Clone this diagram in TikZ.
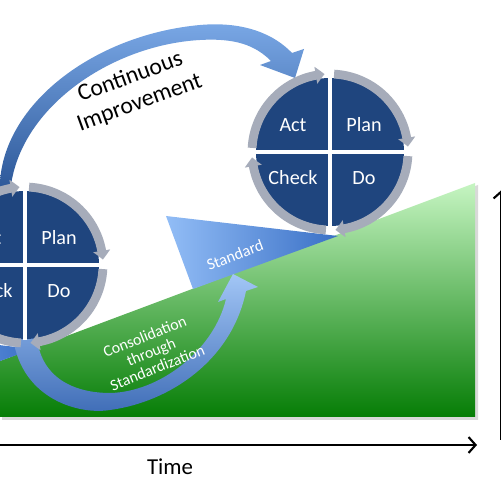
\documentclass[tikz,border=0pt]{standalone}
\usepackage{fontspec}
\setmainfont{Carlito}
\usetikzlibrary{arrows.meta,bending}
\definecolor{quadblue}{HTML}{1F457E}
\definecolor{ringgrey}{HTML}{A6ACBA}
\definecolor{greentop}{HTML}{C6F5C2}
\definecolor{greenbot}{HTML}{067D06}
\definecolor{stdlight}{HTML}{92BDF6}
\definecolor{stddark}{HTML}{3A70C6}
\definecolor{cilight}{HTML}{7AA8E6}
\definecolor{cidark}{HTML}{2A5596}
\definecolor{cslight}{HTML}{A2C6F6}
\definecolor{csdark}{HTML}{3E6CB6}
\tikzset{
  ring/.style={draw=ringgrey, line width=5pt, -{Triangle[length=5pt, width=9.5pt, bend]}},
  divider/.style={draw=white, line width=2.8pt},
  quadlbl/.style={text=white, font=\fontsize{11.5}{13}\selectfont, anchor=base, inner sep=0pt},
  pdca/.pic={
    \fill[quadblue] (0,0) circle (74);
    \foreach \a in {0,90,180,270}
      \draw[ring] (\a+87:78) arc[start angle=\a+87, end angle=\a+4, radius=78];
    \draw[divider] (-75,0) -- (75,0);
    \draw[divider] (0,-75) -- (0,75);
    \node[quadlbl] (-act) at (-37,20) {Act};
    \node[quadlbl] (-plan) at (34,20) {Plan};
    \node[quadlbl] (-check) at (-37,-33) {Check};
    \node[quadlbl] (-do) at (34,-33) {Do};
  }
}
\begin{document}
\begin{tikzpicture}[x=0.02cm,y=0.02cm]
\useasboundingbox (0,0) rectangle (500,500);
% green area with shadow
\fill[black, opacity=0.15] (2,137) -- (478,315) -- (478,80) -- (2,80) -- cycle;
\shade[top color=greentop, bottom color=greenbot] (0,139) -- (475,317) -- (475,83) -- (0,83) -- cycle;
% standard triangles
\shade[left color=stdlight, right color=stddark] (-139,171) -- (33,151) -- (-112,98) -- cycle;
\shade[left color=stdlight, right color=stddark] (166,284) -- (338,264) -- (193,211) -- cycle;
\node[text=white, rotate=21, inner sep=0pt, font=\fontsize{9.2}{11}\selectfont] (std) at (235,245) {Standard};
% consolidation arrow
\shade[top color=cslight, bottom color=csdark]
  (13,162) .. controls (22,100) and (80,85) .. (110,90)
  .. controls (170,98) and (232,140) .. (246,209)
  -- (258,213) -- (233,226) -- (218,198) -- (226,201)
  .. controls (214,150) and (160,108) .. (110,107)
  .. controls (80,107) and (42,118) .. (37,162) -- cycle;
\node[text=white, rotate=22, align=center, inner sep=0pt, font=\fontsize{9}{9.6}\selectfont] (cons) at (151,148) {Consolidation\\through\\Standardization};
% continuous improvement arrow
\shade[top color=cilight, bottom color=cidark]
  (0,305) .. controls (-5,390) and (90,465) .. (200,475)
  .. controls (245,479) and (275,465) .. (292,447)
  -- (304,451) -- (295,422) -- (260,435) -- (271,439)
  .. controls (255,455) and (235,462) .. (200,460)
  .. controls (110,455) and (15,390) .. (10,305) -- cycle;
\node[rotate=20, align=center, inner sep=0pt, font=\fontsize{13.5}{15.5}\selectfont] (ci) at (135,410) {Continuous\\Improvement};
% PDCA circles
\pic (L) at (25,235) {pdca};
\pic (R) at (330,348) {pdca};
% axes
\coordinate (t0) at (-5,55);
\coordinate (t1) at (477,55);
\draw[line width=1.2pt, -{Straight Barb[length=4pt, width=9pt]}] (t0) -- (t1);
\node[font=\fontsize{13}{15}\selectfont] (time) at (170,33) {Time};
\coordinate (v0) at (501.5,60);
\coordinate (v1) at (501.5,310);
\draw[line width=1.2pt, -{Straight Barb[length=4pt, width=9pt]}] (v0) -- (v1);
\end{tikzpicture}
\end{document}
